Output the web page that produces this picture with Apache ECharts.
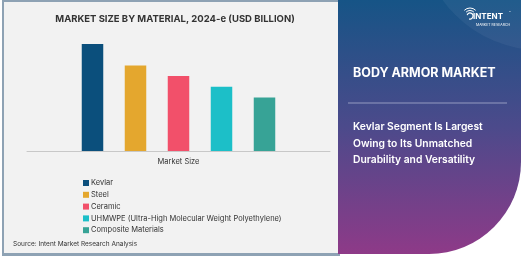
<!DOCTYPE html>
<html>
<head>
<meta charset="utf-8">
<script src="https://cdn.jsdelivr.net/npm/echarts@6/dist/echarts.min.js"></script>
<style>
  html, body { margin: 0; padding: 0; background: #ffffff; }
  #chart { width: 521px; height: 256px; }
</style>
</head>
<body>
<div id="chart"></div>
<script>
// data (axis hidden, values relative)
const categories = ["Market Size"];
const materials = [
  "Kevlar",
  "Steel",
  "Ceramic",
  "UHMWPE (Ultra-High Molecular Weight Polyethylene)",
  "Composite Materials"
];
const marketSize = [2.0, 1.6, 1.4, 1.2, 1.0];
const colors = ["#0b4f7c", "#e4a72e", "#f2506a", "#1cbfc8", "#37a396"];

const FONT = "Inter, 'Open Sans', sans-serif";

const chart = echarts.init(document.getElementById("chart"));

const series = materials.map((name, i) => ({
  name: name,
  type: "bar",
  data: [marketSize[i]],
  barWidth: 21.5,
  barGap: "100%",
  itemStyle: { color: colors[i] },
  emphasis: { disabled: true }
}));

chart.setOption({
  animation: false,
  textStyle: { fontFamily: FONT },
  color: colors,
  title: {
    text: "MARKET SIZE BY MATERIAL, 2024-e (USD BILLION)",
    left: 170,
    textAlign: "center",
    top: 9,
    textStyle: { fontSize: 9.5, fontWeight: "bold", color: "#333333", fontFamily: FONT }
  },
  grid: { left: 27, right: 191, top: 44, bottom: 105 },
  xAxis: {
    type: "category",
    data: categories,
    axisLine: { lineStyle: { color: "#c8c8c8", width: 1 } },
    axisTick: { show: false },
    axisLabel: { color: "#333333", fontSize: 7.5, margin: 7 }
  },
  yAxis: {
    type: "value",
    min: 0,
    max: 2,
    show: false
  },
  legend: {
    orient: "vertical",
    left: 78,
    top: 173,
    icon: "rect",
    itemWidth: 6,
    itemHeight: 6,
    itemGap: 1.8,
    textStyle: { fontSize: 7.5, color: "#333333", lineHeight: 10, padding: [0, 0, 0, -3] },
    data: materials
  },
  graphic: [
    // card background and border
    { type: "rect", shape: { x: 2, y: 0, width: 338, height: 256 }, style: { fill: "#8ea2b4" }, z: -10 },
    { type: "rect", shape: { x: 4, y: 2, width: 336, height: 251 }, style: { fill: "#f2f2f2" }, z: -9 },
    // right panel
    {
      type: "rect",
      shape: { x: 338, y: 0, width: 183, height: 254, r: [0, 0, 92, 0] },
      style: {
        fill: new echarts.graphic.LinearGradient(0, 0, 0, 1, [
          { offset: 0, color: "#165486" },
          { offset: 0.5, color: "#4c4a8b" },
          { offset: 1, color: "#8e3a88" }
        ])
      },
      z: -8
    },
    { type: "circle", shape: { cx: 540, cy: -70, r: 120 }, style: { fill: "rgba(255,255,255,0.05)" }, z: -7 },
    // logo
    { type: "arc", shape: { cx: 470, cy: 16, r: 3, startAngle: -Math.PI * 0.9, endAngle: Math.PI * 0.6 }, style: { stroke: "#ffffff", lineWidth: 1.2, fill: null }, z: 5 },
    { type: "arc", shape: { cx: 470, cy: 16, r: 5.5, startAngle: -Math.PI * 0.75, endAngle: -Math.PI * 0.25 }, style: { stroke: "#ffffff", lineWidth: 1, fill: null }, z: 5 },
    { type: "arc", shape: { cx: 470, cy: 16, r: 8, startAngle: -Math.PI * 0.75, endAngle: -Math.PI * 0.25 }, style: { stroke: "#ffffff", lineWidth: 1, fill: null }, z: 5 },
    { type: "text", left: 473, top: 13, style: { text: "INTENT", fill: "#ffffff", font: "bold 8px " + FONT }, z: 5 },
    { type: "text", left: 509, top: 12, style: { text: "™", fill: "#ffffff", font: "3px " + FONT }, z: 5 },
    { type: "text", left: 476, top: 23, style: { text: "MARKET RESEARCH", fill: "#ffffff", font: "3.5px " + FONT }, z: 5 },
    // panel texts
    { type: "text", left: 353, top: 67, style: { text: "BODY ARMOR MARKET", fill: "#ffffff", font: "bold 12.5px " + FONT }, z: 5 },
    { type: "line", shape: { x1: 348, y1: 103, x2: 507, y2: 103 }, style: { stroke: "rgba(220,220,235,0.55)", lineWidth: 1.2 }, z: 5 },
    {
      type: "text", left: 353, top: 119,
      style: {
        text: "Kevlar Segment Is Largest\nOwing to Its Unmatched\nDurability and Versatility",
        fill: "#ffffff", font: "600 10.3px " + FONT, lineHeight: 16.5
      },
      z: 5
    },
    // source
    { type: "text", left: 13, top: 241, style: { text: "Source: Intent Market Research Analysis", fill: "#333333", font: "6.5px " + FONT }, z: 5 }
  ],
  series: series
});
</script>
</body>
</html>
